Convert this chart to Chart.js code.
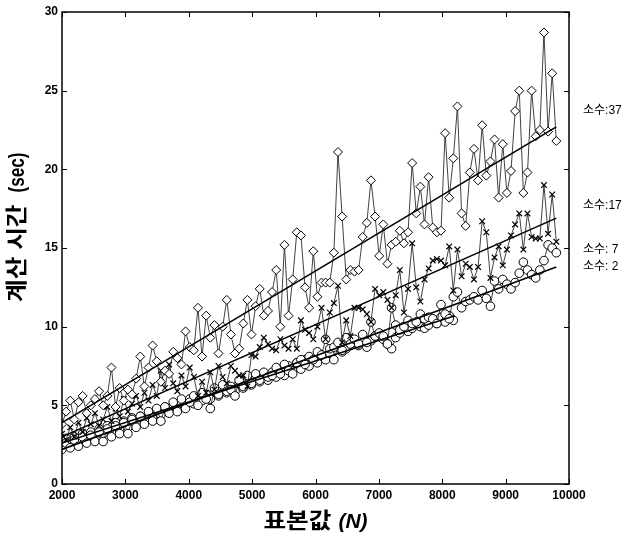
<!DOCTYPE html>
<html>
<head>
<meta charset="utf-8">
<script src="https://cdn.jsdelivr.net/npm/chart.js@4.4.0/dist/chart.umd.min.js"></script>
<style>
  html, body { margin: 0; padding: 0; background: #fff; }
  #wrap { width: 624px; height: 539px; position: relative; }
</style>
</head>
<body>
<div id="wrap"><canvas id="myChart"></canvas></div>
<script>
// sample sizes N
let sampleN = [
  2000,2065,2130,2195,2260,2325,2390,2455,2520,2585,
  2650,2715,2780,2845,2910,2975,3040,3105,3170,3235,
  3300,3365,3430,3495,3560,3625,3690,3755,3820,3885,
  3950,4015,4080,4145,4210,4275,4340,4405,4470,4535,
  4600,4665,4730,4795,4860,4925,4990,5055,5120,5185,
  5250,5315,5380,5445,5510,5575,5640,5705,5770,5835,
  5900,5965,6030,6095,6160,6225,6290,6355,6420,6485,
  6550,6615,6680,6745,6810,6875,6940,7005,7070,7135,
  7200,7265,7330,7395,7460,7525,7590,7655,7720,7785,
  7850,7915,7980,8045,8110,8175,8240,8305,8370,8435,
  8500,8565,8630,8695,8760,8825,8890,8955,9020,9085,
  9150,9215,9280,9345,9410,9475,9540,9605,9670,9735,
  9800
];

// computation time (sec) per prime
let time37 = [
  3.8,4.6,5.3,4.1,5.2,5.6,4.5,5.0,5.4,5.9,
  5.0,5.6,7.4,4.9,6.1,5.3,6.0,5.7,6.7,8.1,
  6.2,7.4,8.8,7.8,6.5,7.2,7.0,8.4,8.0,7.6,
  9.7,8.7,8.5,11.2,8.1,10.7,9.3,10.1,8.3,10.0,
  11.7,9.5,8.3,8.6,10.2,11.7,9.5,11.3,12.4,10.7,
  11.0,12.2,13.6,10.0,15.2,10.7,13.0,16.0,15.8,12.5,
  11.2,14.8,11.9,12.8,12.8,12.8,14.7,21.1,17.0,13.0,
  13.6,13.5,13.6,15.7,16.6,19.3,17.0,14.5,16.5,14.0,
  15.2,15.4,16.1,15.3,16.0,20.4,17.2,18.9,16.5,19.5,
  16.3,16.0,16.1,22.3,18.2,20.7,24.0,17.2,16.4,19.8,
  21.3,19.3,22.8,19.6,20.5,21.9,18.2,21.6,18.5,19.9,
  23.7,25.0,18.5,19.8,25.0,22.1,22.5,28.7,22.4,26.1,
  21.8
];
let time17 = [
  3.2,2.8,3.6,3.0,3.9,3.3,4.2,3.8,4.5,3.7,
  4.1,4.9,4.0,4.8,4.3,5.4,4.6,5.1,5.6,4.9,
  5.8,5.3,6.3,5.6,7.2,6.1,7.6,6.4,5.9,6.9,
  6.2,7.4,6.8,5.6,6.5,5.8,7.1,6.0,7.5,6.8,
  6.4,7.5,7.2,6.9,6.9,6.2,8.2,8.1,8.7,9.3,
  8.9,8.6,8.5,9.2,8.8,8.6,9.2,8.6,10.4,9.8,
  9.6,9.2,10.0,11.2,9.2,10.9,11.5,12.6,9.0,10.4,
  9.4,11.2,11.2,11.1,10.8,10.3,12.4,12.0,12.2,11.7,
  11.2,12.0,13.6,10.9,12.4,15.3,12.5,11.6,13.0,13.7,
  14.2,14.3,14.2,13.9,15.1,12.3,14.9,13.2,14.0,13.8,
  13.0,13.8,16.7,16.0,13.1,14.4,15.1,13.9,14.9,15.8,
  16.5,17.2,14.9,17.2,15.7,15.6,15.6,19.0,15.9,18.4,
  15.4
];
let time7 = [
  2.2,2.6,2.3,2.8,2.4,3.0,2.6,3.1,2.7,3.3,
  2.7,3.5,3.0,3.7,3.2,3.9,3.2,4.1,3.6,4.3,
  3.8,4.6,4.0,4.8,4.0,4.9,4.5,5.2,4.6,5.4,
  4.8,5.2,5.6,5.0,5.8,5.4,4.8,6.1,5.7,6.3,
  5.9,6.0,5.6,6.6,6.2,6.9,6.4,7.0,6.6,7.1,
  6.8,6.9,7.4,7.0,7.6,7.2,7.0,7.7,7.9,7.6,
  8.1,7.9,8.4,8.2,9.2,8.6,8.7,9.0,8.5,9.3,
  8.9,9.2,8.9,9.5,9.0,10.3,9.4,9.6,9.4,8.9,
  11.2,10.1,9.8,10.0,10.4,10.2,10.3,10.8,10.5,10.6,
  10.5,10.2,11.4,10.8,10.5,11.9,12.2,11.2,11.6,11.7,
  11.9,11.7,12.3,11.8,11.3,12.9,12.4,13.0,12.7,12.4,
  12.8,13.4,14.1,13.6,13.3,13.1,13.6,14.2,15.2,15.0,
  14.7
];
let time2 = [
  2.5,2.9,2.6,3.0,2.7,3.2,2.9,3.3,3.0,3.5,
  3.2,3.7,3.3,3.9,3.5,4.0,3.6,4.2,3.8,4.3,
  4.1,4.4,4.2,4.7,4.4,4.9,4.6,5.0,4.7,5.2,
  5.0,5.4,5.1,5.5,5.3,5.7,5.4,5.9,5.6,6.1,
  5.8,6.2,5.9,6.4,6.1,6.6,6.3,6.8,6.5,6.9,
  6.6,7.1,6.8,7.3,6.9,7.5,7.2,7.7,7.3,7.9,
  7.5,7.9,7.7,8.2,7.9,8.3,7.9,8.7,8.4,8.6,
  8.9,8.9,8.8,9.0,8.7,9.1,9.4,9.4,9.2,8.9,
  8.6,9.3,9.6,10.0,9.7,9.9,10.2,10.0,9.9,10.1,
  10.5,10.2,10.6,10.3,10.7,10.4
];

// fitted lines (end points)
let trendN = [2000, 9800];
let trend37 = [3.9, 22.7];
let trend17 = [3.0, 16.9];
let trend7 = [2.2, 13.8];
let trend2N = [2000, 8200];
let trend2 = [2.6, 10.7];

// axis ticks and right-side labels
let xTicks = [2000, 3000, 4000, 5000, 6000, 7000, 8000, 9000, 10000];
let yTicks = [0, 5, 10, 15, 20, 25, 30];
let primeLabels = ['소수:37', '소수:17', '소수: 7', '소수: 2'];
let primeLabelY = [23.7, 17.7, 14.9, 13.8];

function pts(xs, ys) {
  return ys.map((y, i) => ({ x: xs[i], y: y }));
}

function series(vals, style, radius, bw) {
  return {
    data: pts(sampleN, vals),
    borderColor: '#111',
    borderWidth: 0.8,
    pointStyle: style,
    pointRadius: radius,
    pointBorderColor: '#000',
    pointBorderWidth: bw,
    pointBackgroundColor: '#fff',
    tension: 0
  };
}

function trend(xs, ys) {
  return {
    data: pts(xs, ys),
    borderColor: '#000',
    borderWidth: 1.6,
    pointRadius: 0
  };
}

// draws text stretched along its baseline
function stretched(ctx, text, x, y, sx) {
  ctx.save();
  ctx.translate(x, y);
  ctx.scale(sx, 1);
  ctx.fillText(text, 0, 0);
  ctx.restore();
  return ctx.measureText(text).width * sx;
}

const KFONT = '"Liberation Sans", "Noto Sans CJK KR"';

// frame with inward ticks, axis titles and prime labels
let decor = {
  id: 'decor',
  afterDatasetsDraw(chart) {
    const ctx = chart.ctx;
    const a = chart.chartArea;
    const sx = chart.scales.x, sy = chart.scales.y;
    ctx.save();
    ctx.strokeStyle = '#000';
    ctx.lineWidth = 1.5;
    ctx.strokeRect(a.left, a.top, a.right - a.left, a.bottom - a.top);
    ctx.lineWidth = 1;
    ctx.beginPath();
    xTicks.forEach(v => {
      const px = Math.round(sx.getPixelForValue(v)) + 0.5;
      ctx.moveTo(px, a.bottom); ctx.lineTo(px, a.bottom - 5);
      ctx.moveTo(px, a.top); ctx.lineTo(px, a.top + 5);
    });
    yTicks.forEach(v => {
      const py = Math.round(sy.getPixelForValue(v)) + 0.5;
      ctx.moveTo(a.left, py); ctx.lineTo(a.left + 5, py);
      ctx.moveTo(a.right, py); ctx.lineTo(a.right - 5, py);
    });
    ctx.stroke();

    // labels to the right of the plot
    ctx.fillStyle = '#000';
    ctx.font = '12px ' + KFONT;
    ctx.textAlign = 'left';
    ctx.textBaseline = 'middle';
    primeLabels.forEach((t, i) => {
      ctx.fillText(t, a.right + 14, sy.getPixelForValue(primeLabelY[i]));
    });

    // y title, written upward from the bottom end
    ctx.save();
    ctx.translate(18, 302);
    ctx.rotate(-Math.PI / 2);
    ctx.font = 'bold 22px ' + KFONT;
    let u = stretched(ctx, '계산 시간', 0, 0, 1.12);
    u += 12;
    stretched(ctx, '(sec)', u, 0, 0.78);
    ctx.restore();

    // x title, N in italics
    const f1 = 'bold 22px ' + KFONT;
    const f2 = 'italic bold 21px ' + KFONT;
    ctx.font = f1;
    const w1 = ctx.measureText('표본값').width * 1.12;
    ctx.font = f2;
    const w2 = ctx.measureText('(N)').width;
    const gap = 7;
    const x0 = (a.left + a.right) / 2 - (w1 + gap + w2) / 2;
    ctx.font = f1;
    stretched(ctx, '표본값', x0, 522, 1.12);
    ctx.font = f2;
    ctx.fillText('(N)', x0 + w1 + gap, 522);
    ctx.restore();
  }
};

let tickFont = { family: '"Liberation Sans Narrow", "Liberation Sans", Arial', size: 12, weight: 'bold' };

let ctx = document.getElementById('myChart').getContext('2d');
let timeChart = new Chart(ctx, {
  type: 'line',
  data: {
    datasets: [
      trend(trendN, trend37),
      trend(trendN, trend17),
      trend(trendN, trend7),
      trend(trend2N, trend2),
      series(time37, 'rectRot', 4.5, 1),
      series(time17, 'crossRot', 4, 1.2),
      series(time7, 'circle', 4.3, 1),
      series(time2, 'circle', 4.3, 1)
    ]
  },
  options: {
    responsive: true,
    maintainAspectRatio: false,
    animation: false,
    layout: { padding: { top: 12, right: 55, left: 0, bottom: 0 } },
    plugins: { legend: { display: false }, tooltip: { enabled: false } },
    scales: {
      x: {
        type: 'linear',
        min: 2000, max: 10000,
        afterFit: s => { s.height = 55; },
        afterBuildTicks: s => { s.ticks = xTicks.map(v => ({ value: v })); },
        grid: { display: false, drawTicks: false },
        border: { display: false },
        ticks: { color: '#000', font: tickFont, padding: 4, maxRotation: 0, callback: v => String(v) }
      },
      y: {
        min: 0, max: 30,
        afterFit: s => { s.width = 62; },
        afterBuildTicks: s => { s.ticks = yTicks.map(v => ({ value: v })); },
        grid: { display: false, drawTicks: false },
        border: { display: false },
        ticks: { color: '#000', font: tickFont, padding: 4 }
      }
    }
  },
  plugins: [decor]
});
</script>
</body>
</html>
